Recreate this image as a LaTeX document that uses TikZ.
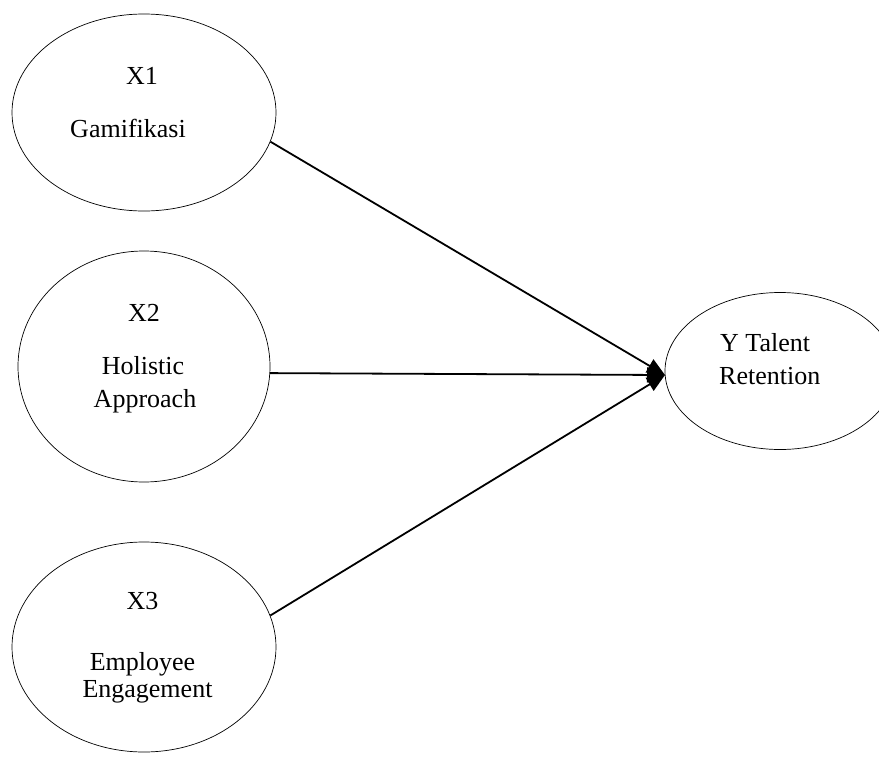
\documentclass[tikz,border=0pt]{standalone}
\usepackage{fontspec}
\setmainfont{Liberation Serif}
\usetikzlibrary{shapes.geometric,arrows.meta}
\begin{document}
\begin{tikzpicture}[x=1pt,y=-1pt,
  latent/.style={draw,ellipse,line width=0.7pt,inner sep=0pt},
  lbl/.style={anchor=base,font=\fontsize{26}{32}\selectfont,inner sep=0pt},
  lblw/.style={anchor=base west,font=\fontsize{26}{32}\selectfont,inner sep=0pt},
  conn/.style={line width=1.8pt,-{Triangle[length=18pt,width=15pt]}}]
\useasboundingbox (0,0) rectangle (879,758);
\clip (0,0) rectangle (879,758);
\node[latent,minimum width=264pt,minimum height=197pt] (x1) at (144,112.5) {};
\node[latent,minimum width=252pt,minimum height=231pt] (x2) at (144,366.5) {};
\node[latent,minimum width=264pt,minimum height=210pt] (x3) at (144,647) {};
\node[latent,minimum width=230pt,minimum height=157pt] (y) at (780,371) {};
\node[lbl] (x1a) at (142,84) {X1};
\node[lbl] (x1b) at (128,137) {Gamifikasi};
\node[lbl] (x2a) at (144,321) {X2};
\node[lbl] (x2b) at (143,374) {Holistic};
\node[lbl] (x2c) at (145,407) {Approach};
\node[lbl] (x3a) at (142.5,609) {X3};
\node[lbl] (x3b) at (142.5,670) {Employee};
\node[lbl] (x3c) at (147.5,697) {Engagement};
\node[lblw] (ya) at (720,351) {Y Talent};
\node[lblw] (yb) at (719,384) {Retention};
\coordinate (tip) at (665,375);
\draw[conn] (x1.-13.7) -- (tip);
\draw[conn] (x2.-3.9) -- (tip);
\draw[conn] (x3.14) -- (tip);
\end{tikzpicture}
\end{document}
